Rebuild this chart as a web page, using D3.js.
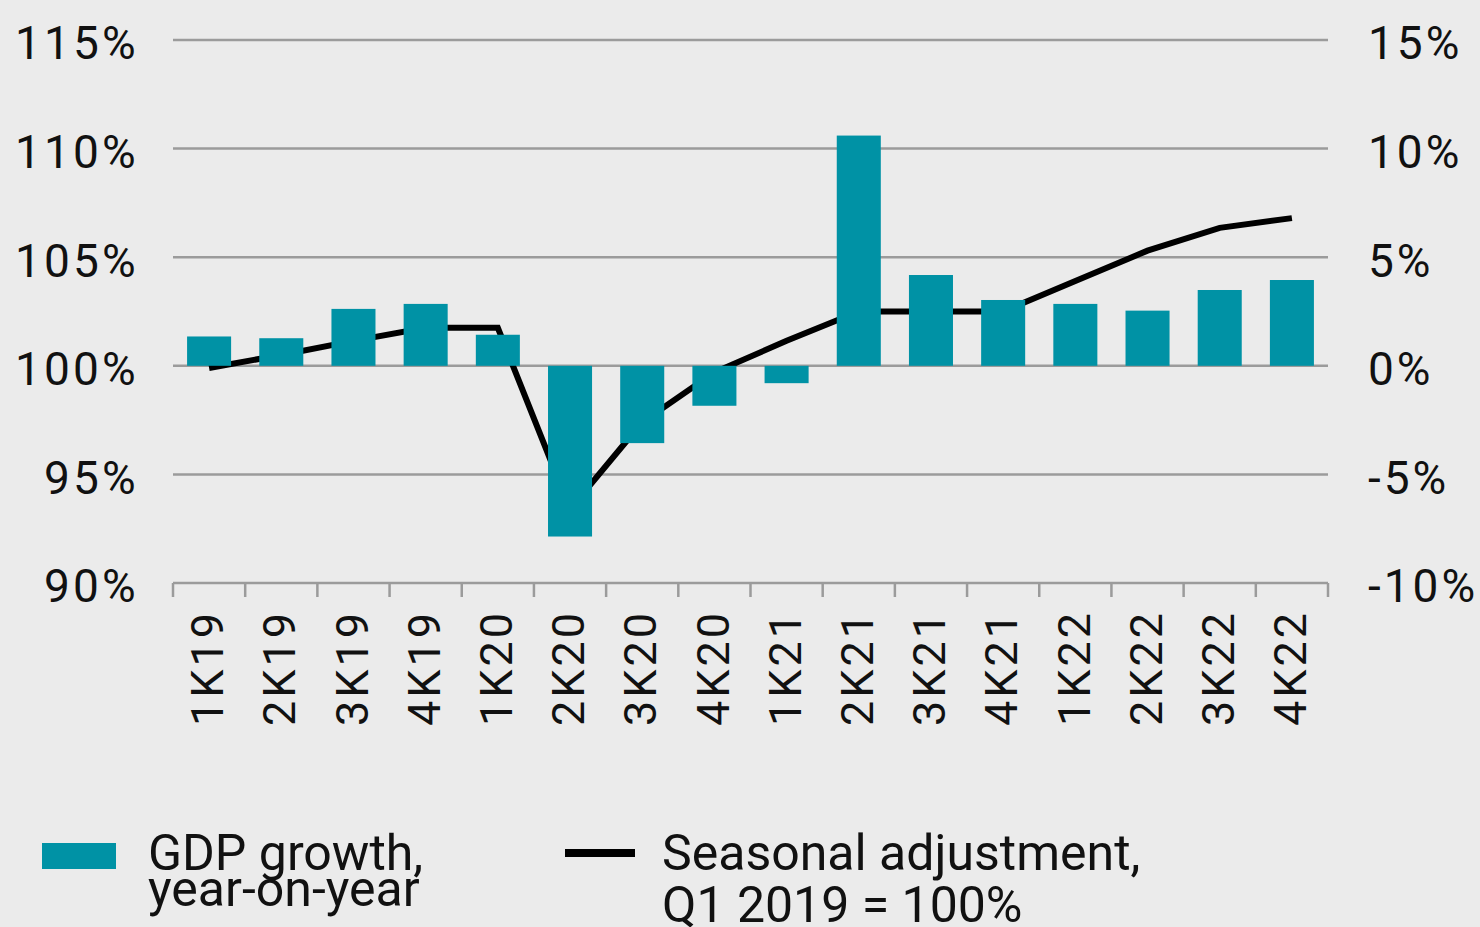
<!DOCTYPE html>
<html>
<head>
<meta charset="utf-8">
<script src="https://cdn.jsdelivr.net/npm/d3@7"></script>
<style>
  html, body { margin: 0; padding: 0; background: #ebebeb; }
  svg { display: block; font-family: Roboto, "Noto Sans", sans-serif; }
</style>
</head>
<body>
<div id="chart"></div>
<script>
// Quarterly GDP: year-on-year growth (bars, right axis) and seasonally adjusted level (line, left axis)
const quarters = ["1K19", "2K19", "3K19", "4K19", "1K20", "2K20", "3K20", "4K20",
                  "1K21", "2K21", "3K21", "4K21", "1K22", "2K22", "3K22", "4K22"];
const growth = [1.35, 1.27, 2.62, 2.85, 1.43, -7.86, -3.56, -1.84,
                -0.8, 10.6, 4.18, 3.03, 2.85, 2.54, 3.49, 3.95];
const seasonal = [99.9, 100.5, 101.15, 101.75, 101.75, 93.4, 97.4, 99.7,
                  101.15, 102.5, 102.5, 102.5, 103.9, 105.3, 106.35, 106.8];
const leftTicks = [90, 95, 100, 105, 110, 115];
const rightTicks = [-10, -5, 0, 5, 10, 15];

const width = 1480;
const height = 927;
const plotLeft = 173, plotRight = 1328, plotTop = 40, plotBottom = 583;

const svg = d3.select("#chart")
    .append("svg")
    .attr("width", width)
    .attr("height", height);

svg.append("rect")
    .attr("width", width)
    .attr("height", height)
    .attr("fill", "#ebebeb");

const x = d3.scaleBand()
    .domain(quarters)
    .range([plotLeft, plotRight])
    .paddingInner(0.39)
    .paddingOuter(0.195);

const yLeft = d3.scaleLinear().domain([90, 115]).range([plotBottom, plotTop]);
const yRight = d3.scaleLinear().domain([-10, 15]).range([plotBottom, plotTop]);

// gridlines
svg.append("g")
    .selectAll("line")
    .data(leftTicks)
    .join("line")
    .attr("x1", plotLeft)
    .attr("x2", plotRight)
    .attr("y1", d => yLeft(d))
    .attr("y2", d => yLeft(d))
    .attr("stroke", "#9b9b9b")
    .attr("stroke-width", 2.5);

// bottom ticks at category boundaries
const bounds = quarters.map(q => x(q) - x.step() * x.paddingInner() / 2);
bounds[0] = plotLeft;
bounds.push(plotRight);
svg.append("g")
    .selectAll("line")
    .data(bounds)
    .join("line")
    .attr("x1", d => d)
    .attr("x2", d => d)
    .attr("y1", plotBottom)
    .attr("y2", plotBottom + 14)
    .attr("stroke", "#9b9b9b")
    .attr("stroke-width", 2.5);

// seasonal line (behind bars)
const line = d3.line()
    .x((d, i) => x(quarters[i]) + x.bandwidth() / 2)
    .y(d => yLeft(d));

svg.append("path")
    .datum(seasonal)
    .attr("d", line)
    .attr("fill", "none")
    .attr("stroke", "#000")
    .attr("stroke-width", 6);

// growth bars
svg.append("g")
    .selectAll("rect")
    .data(growth)
    .join("rect")
    .attr("x", (d, i) => x(quarters[i]))
    .attr("width", x.bandwidth())
    .attr("y", d => yRight(Math.max(0, d)))
    .attr("height", d => Math.abs(yRight(d) - yRight(0)))
    .attr("fill", "#0092a5");

// axis labels
svg.append("g")
    .selectAll("text")
    .data(leftTicks)
    .join("text")
    .attr("x", 139)
    .attr("y", d => yLeft(d))
    .attr("dy", "0.42em")
    .attr("text-anchor", "end")
    .attr("font-size", 46)
    .attr("letter-spacing", 3.2)
    .attr("fill", "#111")
    .text(d => d + "%");

svg.append("g")
    .selectAll("text")
    .data(rightTicks)
    .join("text")
    .attr("x", 1368)
    .attr("y", d => yRight(d))
    .attr("dy", "0.42em")
    .attr("font-size", 46)
    .attr("letter-spacing", 3)
    .attr("fill", "#111")
    .text(d => d + "%");

svg.append("g")
    .selectAll("text")
    .data(quarters)
    .join("text")
    .attr("transform", d => `translate(${x(d) + x.bandwidth() / 2 - 2},610) rotate(-90)`)
    .attr("dy", "0.36em")
    .attr("text-anchor", "end")
    .attr("font-size", 45)
    .attr("letter-spacing", 3)
    .attr("fill", "#111")
    .text(d => d);

// legend
const legend = svg.append("g");
legend.append("rect")
    .attr("x", 42).attr("y", 843)
    .attr("width", 74).attr("height", 26)
    .attr("fill", "#0092a5");
legend.append("text")
    .attr("x", 148).attr("y", 870)
    .attr("font-size", 50).attr("fill", "#111")
    .text("GDP growth,");
legend.append("text")
    .attr("x", 148).attr("y", 906)
    .attr("font-size", 50).attr("fill", "#111")
    .text("year-on-year");

legend.append("line")
    .attr("x1", 565).attr("x2", 635)
    .attr("y1", 853).attr("y2", 853)
    .attr("stroke", "#000")
    .attr("stroke-width", 8);
legend.append("text")
    .attr("x", 662).attr("y", 870)
    .attr("font-size", 50).attr("fill", "#111")
    .text("Seasonal adjustment,");
legend.append("text")
    .attr("x", 662).attr("y", 922)
    .attr("font-size", 50).attr("fill", "#111")
    .text("Q1 2019 = 100%");
</script>
</body>
</html>
